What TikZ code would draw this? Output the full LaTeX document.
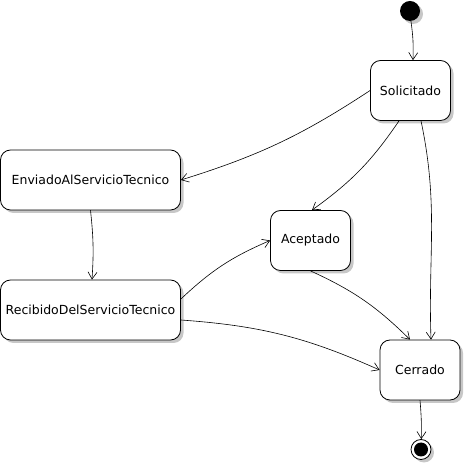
\documentclass[tikz,border=0pt]{standalone}
\usepackage{fontspec}
\setmainfont{DejaVu Sans}
\usetikzlibrary{arrows.meta,shadows}

\begin{document}
\begin{tikzpicture}[line cap=round,line join=round,x=1pt,y=1pt,
    >={Straight Barb[length=7pt,width=9pt]},
    shade/.style={drop shadow={shadow xshift=3pt,shadow yshift=-3pt,fill=black!22,opacity=1}},
    state/.style={draw,line width=0.8pt,rounded corners=10pt,fill=white,shade,
        minimum width=80pt,minimum height=60pt,inner sep=0pt,font=\fontsize{12.5}{15}\selectfont},
    widestate/.style={state,minimum width=180pt},
    trans/.style={->,line width=0.6pt}]
    \useasboundingbox (0,0) rectangle (465,465);

    % start and end points
    \node[circle,fill=black,minimum size=20pt,inner sep=0pt,shade] (ini) at (410,454) {};
    \node[circle,draw,line width=0.8pt,fill=white,minimum size=20pt,inner sep=0pt,shade] (fin) at (421,15.5) {};
    \fill (fin) circle (7pt);

    % states
    \node[state] (solicitado) at (410.5,374.5) {Solicitado};
    \node[widestate] (enviado) at (90.5,285) {EnviadoAlServicioTecnico};
    \node[widestate] (recibido) at (90.5,155) {RecibidoDelServicioTecnico};
    \node[state] (aceptado) at (310.5,224.5) {Aceptado};
    \node[state] (cerrado) at (420,95) {Cerrado};

    % transitions
    \draw[trans] (ini) to[bend left=5] (solicitado);
    \draw[trans] (solicitado.west) to[bend left=8] (enviado.east);
    \draw[trans] ([xshift=-11.5pt]solicitado.south) to[bend left=10] ([xshift=1.5pt]aceptado.north);
    \draw[trans] ([xshift=10.5pt]solicitado.south) to[out=-78,in=92] ([xshift=11pt]cerrado.north);
    \draw[trans] (enviado.south) to[bend left=5] ([xshift=1.5pt]recibido.north);
    \draw[trans] ([yshift=11pt]recibido.east) to[bend left=10] (aceptado.west);
    \draw[trans] ([yshift=-10pt]recibido.east) to[bend left=10] (cerrado.west);
    \draw[trans] (aceptado.south) to[bend left=10] ([xshift=-10pt]cerrado.north);
    \draw[trans] (cerrado.south) to[bend left=3] (fin);
\end{tikzpicture}
\end{document}
